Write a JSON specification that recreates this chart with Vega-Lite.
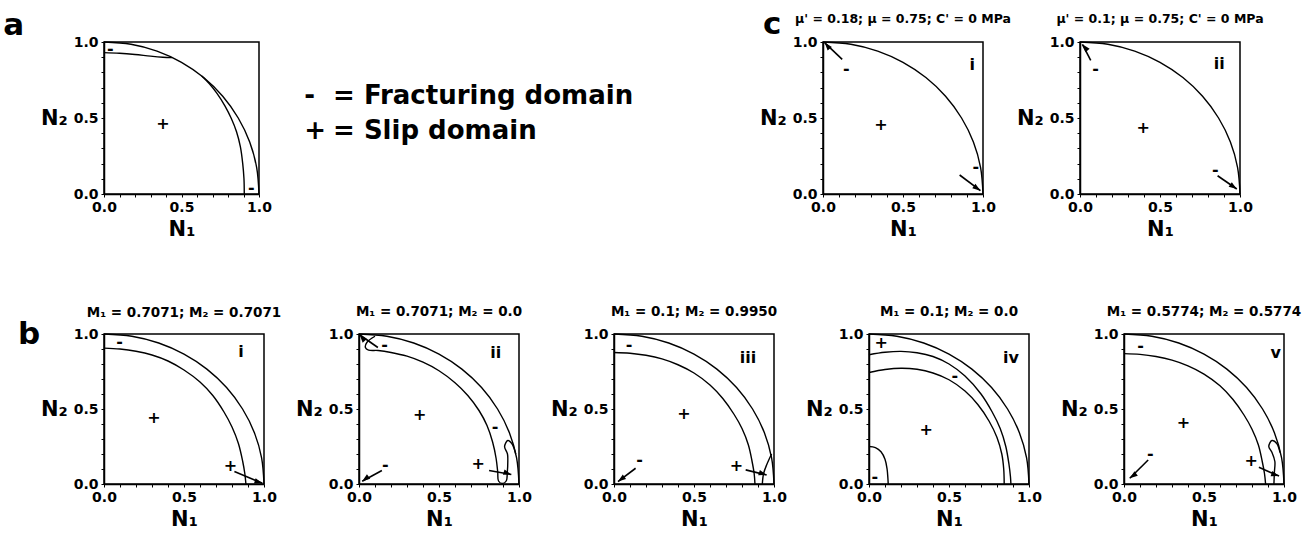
{
"$schema": "https://vega.github.io/schema/vega-lite/v6.json",
"padding": {"left": 2, "top": 8, "right": 5, "bottom": 5},
"background": "white",
"datasets": {
"curves": [
{"p":"a","c":1,"i":0,"x":0,"y":1},{"p":"a","c":1,"i":1,"x":0.174,"y":0.985},{"p":"a","c":1,"i":2,"x":0.342,"y":0.94},{"p":"a","c":1,"i":3,"x":0.5,"y":0.866},{"p":"a","c":1,"i":4,"x":0.643,"y":0.766},{"p":"a","c":1,"i":5,"x":0.766,"y":0.643},{"p":"a","c":1,"i":6,"x":0.866,"y":0.5},{"p":"a","c":1,"i":7,"x":0.94,"y":0.342},{"p":"a","c":1,"i":8,"x":0.985,"y":0.174},{"p":"a","c":1,"i":9,"x":1,"y":0},
{"p":"a","c":2,"i":0,"x":0,"y":0.93},{"p":"a","c":2,"i":1,"x":0.1,"y":0.926},{"p":"a","c":2,"i":2,"x":0.2,"y":0.918},{"p":"a","c":2,"i":3,"x":0.3,"y":0.907},{"p":"a","c":2,"i":4,"x":0.38,"y":0.9},{"p":"a","c":2,"i":5,"x":0.44,"y":0.897},
{"p":"a","c":3,"i":0,"x":0.63,"y":0.776},{"p":"a","c":3,"i":1,"x":0.68,"y":0.725},{"p":"a","c":3,"i":2,"x":0.73,"y":0.66},{"p":"a","c":3,"i":3,"x":0.78,"y":0.58},{"p":"a","c":3,"i":4,"x":0.82,"y":0.5},{"p":"a","c":3,"i":5,"x":0.855,"y":0.41},{"p":"a","c":3,"i":6,"x":0.88,"y":0.31},{"p":"a","c":3,"i":7,"x":0.895,"y":0.2},{"p":"a","c":3,"i":8,"x":0.903,"y":0.1},{"p":"a","c":3,"i":9,"x":0.905,"y":0},

{"p":"ci","c":1,"i":0,"x":0,"y":1},{"p":"ci","c":1,"i":1,"x":0.174,"y":0.985},{"p":"ci","c":1,"i":2,"x":0.342,"y":0.94},{"p":"ci","c":1,"i":3,"x":0.5,"y":0.866},{"p":"ci","c":1,"i":4,"x":0.643,"y":0.766},{"p":"ci","c":1,"i":5,"x":0.766,"y":0.643},{"p":"ci","c":1,"i":6,"x":0.866,"y":0.5},{"p":"ci","c":1,"i":7,"x":0.94,"y":0.342},{"p":"ci","c":1,"i":8,"x":0.985,"y":0.174},{"p":"ci","c":1,"i":9,"x":1,"y":0},

{"p":"cii","c":1,"i":0,"x":0,"y":1},{"p":"cii","c":1,"i":1,"x":0.174,"y":0.985},{"p":"cii","c":1,"i":2,"x":0.342,"y":0.94},{"p":"cii","c":1,"i":3,"x":0.5,"y":0.866},{"p":"cii","c":1,"i":4,"x":0.643,"y":0.766},{"p":"cii","c":1,"i":5,"x":0.766,"y":0.643},{"p":"cii","c":1,"i":6,"x":0.866,"y":0.5},{"p":"cii","c":1,"i":7,"x":0.94,"y":0.342},{"p":"cii","c":1,"i":8,"x":0.985,"y":0.174},{"p":"cii","c":1,"i":9,"x":1,"y":0},

{"p":"bi","c":1,"i":0,"x":0,"y":1},{"p":"bi","c":1,"i":1,"x":0.174,"y":0.985},{"p":"bi","c":1,"i":2,"x":0.342,"y":0.94},{"p":"bi","c":1,"i":3,"x":0.5,"y":0.866},{"p":"bi","c":1,"i":4,"x":0.643,"y":0.766},{"p":"bi","c":1,"i":5,"x":0.766,"y":0.643},{"p":"bi","c":1,"i":6,"x":0.866,"y":0.5},{"p":"bi","c":1,"i":7,"x":0.94,"y":0.342},{"p":"bi","c":1,"i":8,"x":0.985,"y":0.174},{"p":"bi","c":1,"i":9,"x":1,"y":0},
{"p":"bi","c":2,"i":0,"x":0,"y":0.906},{"p":"bi","c":2,"i":1,"x":0.1,"y":0.9},{"p":"bi","c":2,"i":2,"x":0.2,"y":0.885},{"p":"bi","c":2,"i":3,"x":0.3,"y":0.86},{"p":"bi","c":2,"i":4,"x":0.4,"y":0.82},{"p":"bi","c":2,"i":5,"x":0.5,"y":0.76},{"p":"bi","c":2,"i":6,"x":0.6,"y":0.68},{"p":"bi","c":2,"i":7,"x":0.68,"y":0.59},{"p":"bi","c":2,"i":8,"x":0.75,"y":0.48},{"p":"bi","c":2,"i":9,"x":0.8,"y":0.38},{"p":"bi","c":2,"i":10,"x":0.84,"y":0.27},{"p":"bi","c":2,"i":11,"x":0.867,"y":0.15},{"p":"bi","c":2,"i":12,"x":0.88,"y":0.07},{"p":"bi","c":2,"i":13,"x":0.887,"y":0},

{"p":"bii","c":1,"i":0,"x":0,"y":1},{"p":"bii","c":1,"i":1,"x":0.174,"y":0.985},{"p":"bii","c":1,"i":2,"x":0.342,"y":0.94},{"p":"bii","c":1,"i":3,"x":0.5,"y":0.866},{"p":"bii","c":1,"i":4,"x":0.643,"y":0.766},{"p":"bii","c":1,"i":5,"x":0.766,"y":0.643},{"p":"bii","c":1,"i":6,"x":0.866,"y":0.5},{"p":"bii","c":1,"i":7,"x":0.94,"y":0.342},{"p":"bii","c":1,"i":8,"x":0.985,"y":0.174},{"p":"bii","c":1,"i":9,"x":1,"y":0},
{"p":"bii","c":2,"i":0,"x":0.1,"y":0.985},{"p":"bii","c":2,"i":1,"x":0.05,"y":0.945},{"p":"bii","c":2,"i":2,"x":0.04,"y":0.91},{"p":"bii","c":2,"i":3,"x":0.06,"y":0.893},{"p":"bii","c":2,"i":4,"x":0.12,"y":0.89},{"p":"bii","c":2,"i":5,"x":0.2,"y":0.877},{"p":"bii","c":2,"i":6,"x":0.3,"y":0.852},{"p":"bii","c":2,"i":7,"x":0.4,"y":0.812},{"p":"bii","c":2,"i":8,"x":0.5,"y":0.755},{"p":"bii","c":2,"i":9,"x":0.6,"y":0.675},{"p":"bii","c":2,"i":10,"x":0.68,"y":0.59},{"p":"bii","c":2,"i":11,"x":0.75,"y":0.49},{"p":"bii","c":2,"i":12,"x":0.8,"y":0.39},{"p":"bii","c":2,"i":13,"x":0.835,"y":0.28},{"p":"bii","c":2,"i":14,"x":0.857,"y":0.17},{"p":"bii","c":2,"i":15,"x":0.867,"y":0.08},{"p":"bii","c":2,"i":16,"x":0.872,"y":0.02},{"p":"bii","c":2,"i":17,"x":0.895,"y":0.003},{"p":"bii","c":2,"i":18,"x":0.92,"y":0.02},{"p":"bii","c":2,"i":19,"x":0.927,"y":0.08},{"p":"bii","c":2,"i":20,"x":0.93,"y":0.15},{"p":"bii","c":2,"i":21,"x":0.928,"y":0.2},{"p":"bii","c":2,"i":22,"x":0.91,"y":0.25},{"p":"bii","c":2,"i":23,"x":0.93,"y":0.29},{"p":"bii","c":2,"i":24,"x":0.955,"y":0.27},{"p":"bii","c":2,"i":25,"x":0.98,"y":0.2},

{"p":"biii","c":1,"i":0,"x":0,"y":1},{"p":"biii","c":1,"i":1,"x":0.174,"y":0.985},{"p":"biii","c":1,"i":2,"x":0.342,"y":0.94},{"p":"biii","c":1,"i":3,"x":0.5,"y":0.866},{"p":"biii","c":1,"i":4,"x":0.643,"y":0.766},{"p":"biii","c":1,"i":5,"x":0.766,"y":0.643},{"p":"biii","c":1,"i":6,"x":0.866,"y":0.5},{"p":"biii","c":1,"i":7,"x":0.94,"y":0.342},{"p":"biii","c":1,"i":8,"x":0.985,"y":0.174},{"p":"biii","c":1,"i":9,"x":1,"y":0},
{"p":"biii","c":2,"i":0,"x":0,"y":0.877},{"p":"biii","c":2,"i":1,"x":0.1,"y":0.872},{"p":"biii","c":2,"i":2,"x":0.2,"y":0.858},{"p":"biii","c":2,"i":3,"x":0.3,"y":0.834},{"p":"biii","c":2,"i":4,"x":0.4,"y":0.795},{"p":"biii","c":2,"i":5,"x":0.5,"y":0.74},{"p":"biii","c":2,"i":6,"x":0.6,"y":0.66},{"p":"biii","c":2,"i":7,"x":0.68,"y":0.57},{"p":"biii","c":2,"i":8,"x":0.75,"y":0.465},{"p":"biii","c":2,"i":9,"x":0.8,"y":0.37},{"p":"biii","c":2,"i":10,"x":0.84,"y":0.26},{"p":"biii","c":2,"i":11,"x":0.863,"y":0.15},{"p":"biii","c":2,"i":12,"x":0.876,"y":0.07},{"p":"biii","c":2,"i":13,"x":0.881,"y":0},
{"p":"biii","c":3,"i":0,"x":0.927,"y":0},{"p":"biii","c":3,"i":1,"x":0.935,"y":0.07},{"p":"biii","c":3,"i":2,"x":0.955,"y":0.13},{"p":"biii","c":3,"i":3,"x":0.985,"y":0.2},

{"p":"biv","c":1,"i":0,"x":0,"y":1},{"p":"biv","c":1,"i":1,"x":0.174,"y":0.985},{"p":"biv","c":1,"i":2,"x":0.342,"y":0.94},{"p":"biv","c":1,"i":3,"x":0.5,"y":0.866},{"p":"biv","c":1,"i":4,"x":0.643,"y":0.766},{"p":"biv","c":1,"i":5,"x":0.766,"y":0.643},{"p":"biv","c":1,"i":6,"x":0.866,"y":0.5},{"p":"biv","c":1,"i":7,"x":0.94,"y":0.342},{"p":"biv","c":1,"i":8,"x":0.985,"y":0.174},{"p":"biv","c":1,"i":9,"x":1,"y":0},
{"p":"biv","c":2,"i":0,"x":0,"y":0.862},{"p":"biv","c":2,"i":1,"x":0.1,"y":0.878},{"p":"biv","c":2,"i":2,"x":0.2,"y":0.884},{"p":"biv","c":2,"i":3,"x":0.3,"y":0.875},{"p":"biv","c":2,"i":4,"x":0.4,"y":0.85},{"p":"biv","c":2,"i":5,"x":0.5,"y":0.8},{"p":"biv","c":2,"i":6,"x":0.6,"y":0.72},{"p":"biv","c":2,"i":7,"x":0.7,"y":0.6},{"p":"biv","c":2,"i":8,"x":0.77,"y":0.48},{"p":"biv","c":2,"i":9,"x":0.82,"y":0.37},{"p":"biv","c":2,"i":10,"x":0.855,"y":0.25},{"p":"biv","c":2,"i":11,"x":0.875,"y":0.13},{"p":"biv","c":2,"i":12,"x":0.884,"y":0.05},{"p":"biv","c":2,"i":13,"x":0.887,"y":0},
{"p":"biv","c":3,"i":0,"x":0,"y":0.743},{"p":"biv","c":3,"i":1,"x":0.1,"y":0.763},{"p":"biv","c":3,"i":2,"x":0.2,"y":0.772},{"p":"biv","c":3,"i":3,"x":0.3,"y":0.765},{"p":"biv","c":3,"i":4,"x":0.4,"y":0.74},{"p":"biv","c":3,"i":5,"x":0.5,"y":0.695},{"p":"biv","c":3,"i":6,"x":0.6,"y":0.62},{"p":"biv","c":3,"i":7,"x":0.68,"y":0.53},{"p":"biv","c":3,"i":8,"x":0.75,"y":0.42},{"p":"biv","c":3,"i":9,"x":0.8,"y":0.31},{"p":"biv","c":3,"i":10,"x":0.83,"y":0.2},{"p":"biv","c":3,"i":11,"x":0.842,"y":0.1},{"p":"biv","c":3,"i":12,"x":0.845,"y":0},
{"p":"biv","c":4,"i":0,"x":0,"y":0.25},{"p":"biv","c":4,"i":1,"x":0.04,"y":0.243},{"p":"biv","c":4,"i":2,"x":0.075,"y":0.215},{"p":"biv","c":4,"i":3,"x":0.1,"y":0.165},{"p":"biv","c":4,"i":4,"x":0.113,"y":0.1},{"p":"biv","c":4,"i":5,"x":0.118,"y":0.04},{"p":"biv","c":4,"i":6,"x":0.12,"y":0},

{"p":"bv","c":1,"i":0,"x":0,"y":1},{"p":"bv","c":1,"i":1,"x":0.174,"y":0.985},{"p":"bv","c":1,"i":2,"x":0.342,"y":0.94},{"p":"bv","c":1,"i":3,"x":0.5,"y":0.866},{"p":"bv","c":1,"i":4,"x":0.643,"y":0.766},{"p":"bv","c":1,"i":5,"x":0.766,"y":0.643},{"p":"bv","c":1,"i":6,"x":0.866,"y":0.5},{"p":"bv","c":1,"i":7,"x":0.94,"y":0.342},{"p":"bv","c":1,"i":8,"x":0.985,"y":0.174},{"p":"bv","c":1,"i":9,"x":1,"y":0},
{"p":"bv","c":2,"i":0,"x":0,"y":0.869},{"p":"bv","c":2,"i":1,"x":0.1,"y":0.864},{"p":"bv","c":2,"i":2,"x":0.2,"y":0.85},{"p":"bv","c":2,"i":3,"x":0.3,"y":0.826},{"p":"bv","c":2,"i":4,"x":0.4,"y":0.788},{"p":"bv","c":2,"i":5,"x":0.5,"y":0.733},{"p":"bv","c":2,"i":6,"x":0.6,"y":0.655},{"p":"bv","c":2,"i":7,"x":0.68,"y":0.565},{"p":"bv","c":2,"i":8,"x":0.75,"y":0.46},{"p":"bv","c":2,"i":9,"x":0.8,"y":0.365},{"p":"bv","c":2,"i":10,"x":0.84,"y":0.26},{"p":"bv","c":2,"i":11,"x":0.864,"y":0.15},{"p":"bv","c":2,"i":12,"x":0.878,"y":0.07},{"p":"bv","c":2,"i":13,"x":0.885,"y":0},
{"p":"bv","c":3,"i":0,"x":0.937,"y":0},{"p":"bv","c":3,"i":1,"x":0.94,"y":0.08},{"p":"bv","c":3,"i":2,"x":0.943,"y":0.15},{"p":"bv","c":3,"i":3,"x":0.925,"y":0.21},{"p":"bv","c":3,"i":4,"x":0.905,"y":0.25},{"p":"bv","c":3,"i":5,"x":0.925,"y":0.29},{"p":"bv","c":3,"i":6,"x":0.955,"y":0.27},{"p":"bv","c":3,"i":7,"x":0.975,"y":0.21}
],
"labels": [
{"p":"a","x":0.04,"y":0.955,"t":"-"},{"p":"a","x":0.38,"y":0.46,"t":"+"},{"p":"a","x":0.95,"y":0.04,"t":"-"},
{"p":"ci","x":0.146,"y":0.825,"t":"-"},{"p":"ci","x":0.955,"y":0.175,"t":"-"},{"p":"ci","x":0.362,"y":0.457,"t":"+"},{"p":"ci","x":0.932,"y":0.851,"t":"i"},
{"p":"cii","x":0.098,"y":0.824,"t":"-"},{"p":"cii","x":0.845,"y":0.158,"t":"-"},{"p":"cii","x":0.395,"y":0.435,"t":"+"},{"p":"cii","x":0.87,"y":0.853,"t":"ii"},
{"p":"bi","x":0.097,"y":0.95,"t":"-"},{"p":"bi","x":0.856,"y":0.877,"t":"i"},{"p":"bi","x":0.312,"y":0.44,"t":"+"},{"p":"bi","x":0.79,"y":0.123,"t":"+"},
{"p":"bii","x":0.16,"y":0.93,"t":"-"},{"p":"bii","x":0.855,"y":0.876,"t":"ii"},{"p":"bii","x":0.38,"y":0.46,"t":"+"},{"p":"bii","x":0.85,"y":0.38,"t":"-"},{"p":"bii","x":0.745,"y":0.135,"t":"+"},{"p":"bii","x":0.164,"y":0.13,"t":"-"},
{"p":"biii","x":0.094,"y":0.93,"t":"-"},{"p":"biii","x":0.837,"y":0.84,"t":"iii"},{"p":"biii","x":0.4375,"y":0.47,"t":"+"},{"p":"biii","x":0.16,"y":0.157,"t":"-"},{"p":"biii","x":0.765,"y":0.12,"t":"+"},
{"p":"biv","x":0.076,"y":0.937,"t":"+"},{"p":"biv","x":0.887,"y":0.84,"t":"iv"},{"p":"biv","x":0.536,"y":0.72,"t":"-"},{"p":"biv","x":0.357,"y":0.362,"t":"+"},{"p":"biv","x":0.037,"y":0.05,"t":"-"},
{"p":"bv","x":0.103,"y":0.918,"t":"-"},{"p":"bv","x":0.948,"y":0.873,"t":"v"},{"p":"bv","x":0.371,"y":0.405,"t":"+"},{"p":"bv","x":0.164,"y":0.198,"t":"-"},{"p":"bv","x":0.795,"y":0.154,"t":"+"}
],
"arrows": [
{"p":"ci","d":"ul","x":0.01,"y":0.996,"x2":0.12,"y2":0.886},{"p":"ci","d":"dr","x":0.984,"y":0.022,"x2":0.854,"y2":0.125},
{"p":"cii","d":"ul","x":0.015,"y":0.985,"x2":0.067,"y2":0.879},{"p":"cii","d":"dr","x":0.98,"y":0.033,"x2":0.86,"y2":0.12},
{"p":"bi","d":"r","x":0.99,"y":0.005,"x2":0.815,"y2":0.083},
{"p":"bii","d":"ul","x":0.004,"y":0.995,"x2":0.118,"y2":0.91},{"p":"bii","d":"dl","x":0.02,"y":0.018,"x2":0.143,"y2":0.09},{"p":"bii","d":"r","x":0.952,"y":0.063,"x2":0.813,"y2":0.09},
{"p":"biii","d":"dl","x":0.025,"y":0.016,"x2":0.135,"y2":0.105},{"p":"biii","d":"r","x":0.954,"y":0.06,"x2":0.823,"y2":0.094},
{"p":"bv","d":"dl","x":0.036,"y":0.038,"x2":0.151,"y2":0.16},{"p":"bv","d":"r","x":0.969,"y":0.053,"x2":0.843,"y2":0.111}
],
"tags": [
{"p":"a","x":-0.65,"y":1.046,"t":"a"},{"p":"bi","x":-0.5375,"y":0.933,"t":"b"},{"p":"c","x":1.1,"y":1.053,"t":"c"}
],
"legend": [
{"x":-0.14,"y":0.592,"t":"-"},{"x":-0.062,"y":0.592,"t":"= Fracturing domain"},{"x":-0.14,"y":0.362,"t":"+"},{"x":-0.062,"y":0.362,"t":"= Slip domain"}
]
},
"vconcat": [
{"hconcat": [
{"width":155,"height":152,
 "encoding":{"x":{"field":"x","type":"quantitative","scale":{"domain":[0,1]},"axis":{"title":"N₁","values":[0,0.1,0.2,0.3,0.4,0.5,0.6,0.7,0.8,0.9,1]}},
 "y":{"field":"y","type":"quantitative","scale":{"domain":[0,1]},"axis":{"title":"N₂","values":[0,0.1,0.2,0.3,0.4,0.5,0.6,0.7,0.8,0.9,1]}}},
 "layer":[
  {"data":{"name":"curves"},"transform":[{"filter":"datum.p == 'a'"}],"mark":{"type":"line","interpolate":"catmull-rom","color":"black","strokeWidth":1.4},"encoding":{"detail":{"field":"c","type":"nominal"},"order":{"field":"i","type":"quantitative"}}},
  {"data":{"name":"labels"},"transform":[{"filter":"datum.p == 'a'"}],"mark":{"type":"text","font":"DejaVu Sans","fontWeight":"bold","fontSize":16,"color":"black"},"encoding":{"text":{"field":"t"}}},
  {"data":{"name":"tags"},"transform":[{"filter":"datum.p == 'a'"}],"mark":{"type":"text","font":"DejaVu Sans","fontWeight":"bold","fontSize":31,"align":"left","baseline":"alphabetic","color":"black"},"encoding":{"text":{"field":"t"}}}
 ]},
{"width":370,"height":152,"view":{"stroke":null},
 "encoding":{"x":{"field":"x","type":"quantitative","scale":{"domain":[0,1]},"axis":null},"y":{"field":"y","type":"quantitative","scale":{"domain":[0,1]},"axis":null},"text":{"field":"t"}},
 "layer":[
  {"data":{"name":"legend"},"mark":{"type":"text","font":"DejaVu Sans","fontWeight":"bold","fontSize":26,"align":"left","baseline":"alphabetic","color":"black"}},
  {"data":{"name":"tags"},"transform":[{"filter":"datum.p == 'c'"}],"mark":{"type":"text","font":"DejaVu Sans","fontWeight":"bold","fontSize":31,"align":"left","baseline":"alphabetic","color":"black"}}
 ]},
{"width":160,"height":152,
 "title":{"text":"μ' = 0.18; μ = 0.75; C' = 0 MPa","offset":10,"fontSize":12.5},
 "encoding":{"x":{"field":"x","type":"quantitative","scale":{"domain":[0,1]},"axis":{"title":"N₁","values":[0,0.1,0.2,0.3,0.4,0.5,0.6,0.7,0.8,0.9,1]}},
 "y":{"field":"y","type":"quantitative","scale":{"domain":[0,1]},"axis":{"title":"N₂","values":[0,0.1,0.2,0.3,0.4,0.5,0.6,0.7,0.8,0.9,1]}}},
 "layer":[
  {"data":{"name":"curves"},"transform":[{"filter":"datum.p == 'ci'"}],"mark":{"type":"line","interpolate":"catmull-rom","color":"black","strokeWidth":1.4},"encoding":{"detail":{"field":"c","type":"nominal"},"order":{"field":"i","type":"quantitative"}}},
  {"data":{"name":"labels"},"transform":[{"filter":"datum.p == 'ci'"}],"mark":{"type":"text","font":"DejaVu Sans","fontWeight":"bold","fontSize":16,"color":"black"},"encoding":{"text":{"field":"t"}}},
  {"data":{"name":"arrows"},"transform":[{"filter":"datum.p == 'ci'"}],"mark":{"type":"rule","color":"black","strokeWidth":1.6},"encoding":{"x2":{"field":"x2"},"y2":{"field":"y2"}}},
  {"data":{"name":"arrows"},"transform":[{"filter":"datum.p == 'ci'"}],"mark":{"type":"point","filled":true,"color":"black","opacity":1,"size":100},"encoding":{"shape":{"field":"d","type":"nominal","legend":null,"scale":{"domain":["ul","dr","r","dl"],"range":["M0,0L1.45,0.87L0.61,1.58Z","M0,0L-1.63,-0.47L-1,-1.37Z","M0,0L-1.69,0.03L-1.35,-1.02Z","M0,0L0.95,-1.4L1.61,-0.52Z"]}}}}
 ]},
{"width":160,"height":152,
 "title":{"text":"μ' = 0.1; μ = 0.75; C' = 0 MPa","offset":10,"fontSize":12.5},
 "encoding":{"x":{"field":"x","type":"quantitative","scale":{"domain":[0,1]},"axis":{"title":"N₁","values":[0,0.1,0.2,0.3,0.4,0.5,0.6,0.7,0.8,0.9,1]}},
 "y":{"field":"y","type":"quantitative","scale":{"domain":[0,1]},"axis":{"title":"N₂","values":[0,0.1,0.2,0.3,0.4,0.5,0.6,0.7,0.8,0.9,1]}}},
 "layer":[
  {"data":{"name":"curves"},"transform":[{"filter":"datum.p == 'cii'"}],"mark":{"type":"line","interpolate":"catmull-rom","color":"black","strokeWidth":1.4},"encoding":{"detail":{"field":"c","type":"nominal"},"order":{"field":"i","type":"quantitative"}}},
  {"data":{"name":"labels"},"transform":[{"filter":"datum.p == 'cii'"}],"mark":{"type":"text","font":"DejaVu Sans","fontWeight":"bold","fontSize":16,"color":"black"},"encoding":{"text":{"field":"t"}}},
  {"data":{"name":"arrows"},"transform":[{"filter":"datum.p == 'cii'"}],"mark":{"type":"rule","color":"black","strokeWidth":1.6},"encoding":{"x2":{"field":"x2"},"y2":{"field":"y2"}}},
  {"data":{"name":"arrows"},"transform":[{"filter":"datum.p == 'cii'"}],"mark":{"type":"point","filled":true,"color":"black","opacity":1,"size":100},"encoding":{"shape":{"field":"d","type":"nominal","legend":null,"scale":{"domain":["ul","dr","r","dl"],"range":["M0,0L1.45,0.87L0.61,1.58Z","M0,0L-1.63,-0.47L-1,-1.37Z","M0,0L-1.69,0.03L-1.35,-1.02Z","M0,0L0.95,-1.4L1.61,-0.52Z"]}}}}
 ]}
], "spacing": 97, "bounds": "flush"},
{"hconcat": [
{"width":160,"height":150,
 "title":{"text":"M₁ = 0.7071; M₂ = 0.7071","offset":0},
 "encoding":{"x":{"field":"x","type":"quantitative","scale":{"domain":[0,1]},"axis":{"title":"N₁","values":[0,0.1,0.2,0.3,0.4,0.5,0.6,0.7,0.8,0.9,1]}},
 "y":{"field":"y","type":"quantitative","scale":{"domain":[0,1]},"axis":{"title":"N₂","values":[0,0.1,0.2,0.3,0.4,0.5,0.6,0.7,0.8,0.9,1]}}},
 "layer":[
  {"data":{"name":"curves"},"transform":[{"filter":"datum.p == 'bi'"}],"mark":{"type":"line","interpolate":"catmull-rom","color":"black","strokeWidth":1.4},"encoding":{"detail":{"field":"c","type":"nominal"},"order":{"field":"i","type":"quantitative"}}},
  {"data":{"name":"labels"},"transform":[{"filter":"datum.p == 'bi'"}],"mark":{"type":"text","font":"DejaVu Sans","fontWeight":"bold","fontSize":16,"color":"black"},"encoding":{"text":{"field":"t"}}},
  {"data":{"name":"arrows"},"transform":[{"filter":"datum.p == 'bi'"}],"mark":{"type":"rule","color":"black","strokeWidth":1.6},"encoding":{"x2":{"field":"x2"},"y2":{"field":"y2"}}},
  {"data":{"name":"arrows"},"transform":[{"filter":"datum.p == 'bi'"}],"mark":{"type":"point","filled":true,"color":"black","opacity":1,"size":100},"encoding":{"shape":{"field":"d","type":"nominal","legend":null,"scale":{"domain":["ul","dr","r","dl"],"range":["M0,0L1.45,0.87L0.61,1.58Z","M0,0L-1.63,-0.47L-1,-1.37Z","M0,0L-1.69,0.03L-1.35,-1.02Z","M0,0L0.95,-1.4L1.61,-0.52Z"]}}}},
  {"data":{"name":"tags"},"transform":[{"filter":"datum.p == 'bi'"}],"mark":{"type":"text","font":"DejaVu Sans","fontWeight":"bold","fontSize":31,"align":"left","baseline":"alphabetic","color":"black"},"encoding":{"text":{"field":"t"}}}
 ]},
{"width":160,"height":150,
 "title":{"text":"M₁ = 0.7071; M₂ = 0.0"},
 "encoding":{"x":{"field":"x","type":"quantitative","scale":{"domain":[0,1]},"axis":{"title":"N₁","values":[0,0.1,0.2,0.3,0.4,0.5,0.6,0.7,0.8,0.9,1]}},
 "y":{"field":"y","type":"quantitative","scale":{"domain":[0,1]},"axis":{"title":"N₂","values":[0,0.1,0.2,0.3,0.4,0.5,0.6,0.7,0.8,0.9,1]}}},
 "layer":[
  {"data":{"name":"curves"},"transform":[{"filter":"datum.p == 'bii'"}],"mark":{"type":"line","interpolate":"catmull-rom","color":"black","strokeWidth":1.4},"encoding":{"detail":{"field":"c","type":"nominal"},"order":{"field":"i","type":"quantitative"}}},
  {"data":{"name":"labels"},"transform":[{"filter":"datum.p == 'bii'"}],"mark":{"type":"text","font":"DejaVu Sans","fontWeight":"bold","fontSize":16,"color":"black"},"encoding":{"text":{"field":"t"}}},
  {"data":{"name":"arrows"},"transform":[{"filter":"datum.p == 'bii'"}],"mark":{"type":"rule","color":"black","strokeWidth":1.6},"encoding":{"x2":{"field":"x2"},"y2":{"field":"y2"}}},
  {"data":{"name":"arrows"},"transform":[{"filter":"datum.p == 'bii'"}],"mark":{"type":"point","filled":true,"color":"black","opacity":1,"size":100},"encoding":{"shape":{"field":"d","type":"nominal","legend":null,"scale":{"domain":["ul","dr","r","dl"],"range":["M0,0L1.45,0.87L0.61,1.58Z","M0,0L-1.63,-0.47L-1,-1.37Z","M0,0L-1.69,0.03L-1.35,-1.02Z","M0,0L0.95,-1.4L1.61,-0.52Z"]}}}}
 ]},
{"width":160,"height":150,
 "title":{"text":"M₁ = 0.1; M₂ = 0.9950"},
 "encoding":{"x":{"field":"x","type":"quantitative","scale":{"domain":[0,1]},"axis":{"title":"N₁","values":[0,0.1,0.2,0.3,0.4,0.5,0.6,0.7,0.8,0.9,1]}},
 "y":{"field":"y","type":"quantitative","scale":{"domain":[0,1]},"axis":{"title":"N₂","values":[0,0.1,0.2,0.3,0.4,0.5,0.6,0.7,0.8,0.9,1]}}},
 "layer":[
  {"data":{"name":"curves"},"transform":[{"filter":"datum.p == 'biii'"}],"mark":{"type":"line","interpolate":"catmull-rom","color":"black","strokeWidth":1.4},"encoding":{"detail":{"field":"c","type":"nominal"},"order":{"field":"i","type":"quantitative"}}},
  {"data":{"name":"labels"},"transform":[{"filter":"datum.p == 'biii'"}],"mark":{"type":"text","font":"DejaVu Sans","fontWeight":"bold","fontSize":16,"color":"black"},"encoding":{"text":{"field":"t"}}},
  {"data":{"name":"arrows"},"transform":[{"filter":"datum.p == 'biii'"}],"mark":{"type":"rule","color":"black","strokeWidth":1.6},"encoding":{"x2":{"field":"x2"},"y2":{"field":"y2"}}},
  {"data":{"name":"arrows"},"transform":[{"filter":"datum.p == 'biii'"}],"mark":{"type":"point","filled":true,"color":"black","opacity":1,"size":100},"encoding":{"shape":{"field":"d","type":"nominal","legend":null,"scale":{"domain":["ul","dr","r","dl"],"range":["M0,0L1.45,0.87L0.61,1.58Z","M0,0L-1.63,-0.47L-1,-1.37Z","M0,0L-1.69,0.03L-1.35,-1.02Z","M0,0L0.95,-1.4L1.61,-0.52Z"]}}}}
 ]},
{"width":160,"height":150,
 "title":{"text":"M₁ = 0.1; M₂ = 0.0"},
 "encoding":{"x":{"field":"x","type":"quantitative","scale":{"domain":[0,1]},"axis":{"title":"N₁","values":[0,0.1,0.2,0.3,0.4,0.5,0.6,0.7,0.8,0.9,1]}},
 "y":{"field":"y","type":"quantitative","scale":{"domain":[0,1]},"axis":{"title":"N₂","values":[0,0.1,0.2,0.3,0.4,0.5,0.6,0.7,0.8,0.9,1]}}},
 "layer":[
  {"data":{"name":"curves"},"transform":[{"filter":"datum.p == 'biv'"}],"mark":{"type":"line","interpolate":"catmull-rom","color":"black","strokeWidth":1.4},"encoding":{"detail":{"field":"c","type":"nominal"},"order":{"field":"i","type":"quantitative"}}},
  {"data":{"name":"labels"},"transform":[{"filter":"datum.p == 'biv'"}],"mark":{"type":"text","font":"DejaVu Sans","fontWeight":"bold","fontSize":16,"color":"black"},"encoding":{"text":{"field":"t"}}}
 ]},
{"width":160,"height":150,
 "title":{"text":"M₁ = 0.5774; M₂ = 0.5774"},
 "encoding":{"x":{"field":"x","type":"quantitative","scale":{"domain":[0,1]},"axis":{"title":"N₁","values":[0,0.1,0.2,0.3,0.4,0.5,0.6,0.7,0.8,0.9,1]}},
 "y":{"field":"y","type":"quantitative","scale":{"domain":[0,1]},"axis":{"title":"N₂","values":[0,0.1,0.2,0.3,0.4,0.5,0.6,0.7,0.8,0.9,1]}}},
 "layer":[
  {"data":{"name":"curves"},"transform":[{"filter":"datum.p == 'bv'"}],"mark":{"type":"line","interpolate":"catmull-rom","color":"black","strokeWidth":1.4},"encoding":{"detail":{"field":"c","type":"nominal"},"order":{"field":"i","type":"quantitative"}}},
  {"data":{"name":"labels"},"transform":[{"filter":"datum.p == 'bv'"}],"mark":{"type":"text","font":"DejaVu Sans","fontWeight":"bold","fontSize":16,"color":"black"},"encoding":{"text":{"field":"t"}}},
  {"data":{"name":"arrows"},"transform":[{"filter":"datum.p == 'bv'"}],"mark":{"type":"rule","color":"black","strokeWidth":1.6},"encoding":{"x2":{"field":"x2"},"y2":{"field":"y2"}}},
  {"data":{"name":"arrows"},"transform":[{"filter":"datum.p == 'bv'"}],"mark":{"type":"point","filled":true,"color":"black","opacity":1,"size":100},"encoding":{"shape":{"field":"d","type":"nominal","legend":null,"scale":{"domain":["ul","dr","r","dl"],"range":["M0,0L1.45,0.87L0.61,1.58Z","M0,0L-1.63,-0.47L-1,-1.37Z","M0,0L-1.69,0.03L-1.35,-1.02Z","M0,0L0.95,-1.4L1.61,-0.52Z"]}}}}
 ]}
], "spacing": 95, "bounds": "flush"}
],
"spacing": 63,
"config": {
 "view": {"stroke": "black", "strokeWidth": 1.5},
 "axis": {"grid": false, "domainColor": "black", "domainWidth": 1.5, "tickColor": "black", "tickSize": 3, "tickWidth": 1,
  "labelFont": "DejaVu Sans", "labelFontWeight": "bold", "labelFontSize": 14, "labelColor": "black", "labelFlush": false, "labelOverlap": false, "labelPadding": 3,
  "labelExpr": "datum.value == 0 || datum.value == 0.5 || datum.value == 1 ? format(datum.value, '.1f') : ''",
  "titleFont": "DejaVu Sans", "titleFontWeight": "bold", "titleFontSize": 21, "titleColor": "black"},
 "axisX": {"titlePadding": 4},
 "axisY": {"titleAngle": 0, "titleAlign": "right", "titleBaseline": "middle", "titlePadding": 6},
 "title": {"font": "DejaVu Sans", "fontSize": 13.5, "fontWeight": "bold", "color": "black", "offset": 9}
}
}
